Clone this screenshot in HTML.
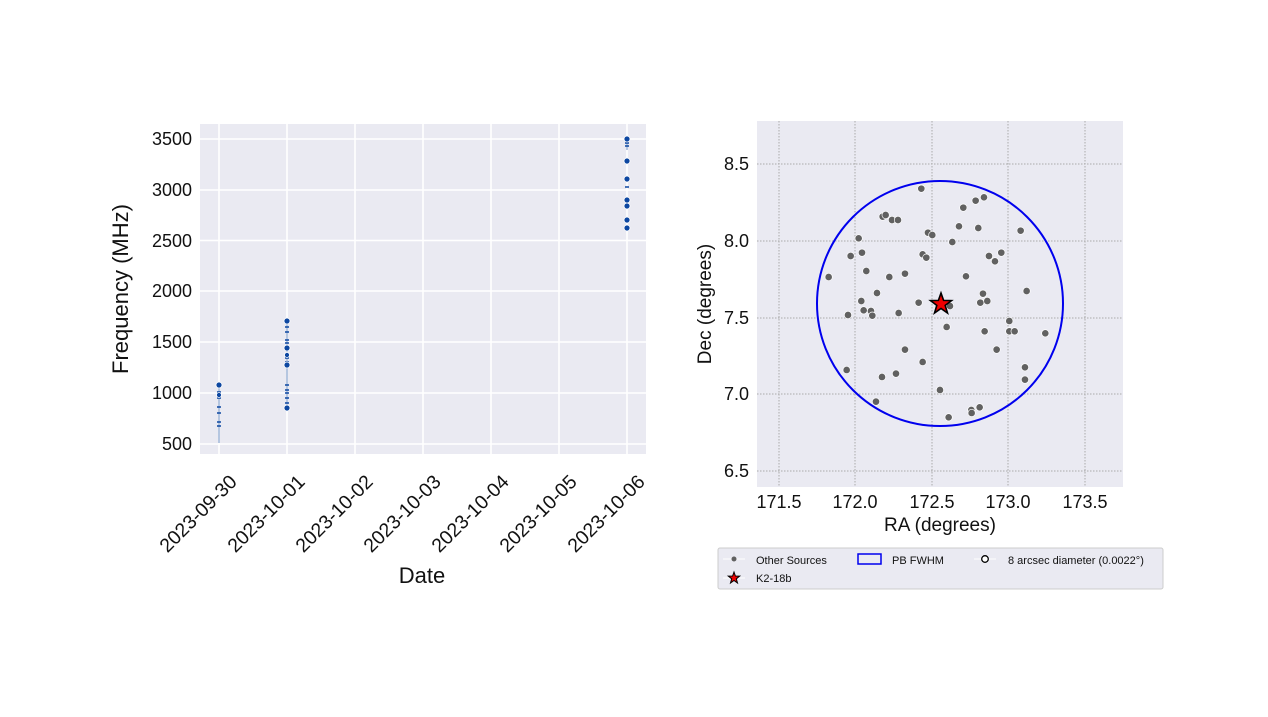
<!DOCTYPE html>
<html><head><style>body{margin:0;background:#fff}svg{display:block;font-family:"Liberation Sans",Arial,sans-serif}</style></head>
<body>
<svg width="1268" height="717" viewBox="0 0 1268 717">
<!-- LEFT PLOT -->
<rect x="200" y="124" width="446" height="330" fill="#eaeaf2"/>
<g stroke="#fff" stroke-width="1.6">
<line x1="200" x2="646" y1="139" y2="139"/><line x1="200" x2="646" y1="190" y2="190"/><line x1="200" x2="646" y1="240.5" y2="240.5"/><line x1="200" x2="646" y1="291" y2="291"/><line x1="200" x2="646" y1="342" y2="342"/><line x1="200" x2="646" y1="393" y2="393"/><line x1="200" x2="646" y1="444" y2="444"/>
<line y1="124" y2="454" x1="219" x2="219"/><line y1="124" y2="454" x1="287" x2="287"/><line y1="124" y2="454" x1="355" x2="355"/><line y1="124" y2="454" x1="423" x2="423"/><line y1="124" y2="454" x1="491" x2="491"/><line y1="124" y2="454" x1="559" x2="559"/><line y1="124" y2="454" x1="627" x2="627"/>
</g>
<g stroke="#9fb6d8" stroke-width="1.5"><line x1="219" x2="219" y1="383" y2="443"/><line x1="287" x2="287" y1="321" y2="410"/><line x1="627" x2="627" y1="139" y2="150"/></g>
<g stroke="#0d47a1" stroke-width="1.5">
<line x1="217" x2="221" y1="392" y2="392"/><line x1="217" x2="221" y1="395" y2="395"/><line x1="217" x2="221" y1="398" y2="398"/><line x1="217" x2="221" y1="407" y2="407"/><line x1="217" x2="221" y1="413" y2="413"/><line x1="217" x2="221" y1="422" y2="422"/><line x1="217" x2="221" y1="426" y2="426"/>
<line x1="285" x2="289" y1="327" y2="327"/><line x1="285" x2="289" y1="332" y2="332"/><line x1="285" x2="289" y1="340" y2="340"/><line x1="285" x2="289" y1="343" y2="343"/><line x1="285" x2="289" y1="357" y2="357"/><line x1="285" x2="289" y1="358" y2="358"/><line x1="285" x2="289" y1="362" y2="362"/><line x1="285" x2="289" y1="385" y2="385"/><line x1="285" x2="289" y1="390" y2="390"/><line x1="285" x2="289" y1="393" y2="393"/><line x1="285" x2="289" y1="398" y2="398"/><line x1="285" x2="289" y1="403" y2="403"/>
<line x1="625" x2="629" y1="143" y2="143"/><line x1="625" x2="629" y1="146" y2="146"/><line x1="625" x2="629" y1="187" y2="187"/>
</g>
<g fill="#0d47a1" stroke="#fff" stroke-width="0.8">
<circle cx="219" cy="385" r="3"/><circle cx="219" cy="395" r="2.5"/>
<circle cx="287" cy="321" r="3"/><circle cx="287" cy="348" r="3"/><circle cx="287" cy="355" r="2.5"/><circle cx="287" cy="365" r="3"/><circle cx="287" cy="408" r="3"/>
<circle cx="627" cy="139" r="3"/><circle cx="627" cy="161" r="3"/><circle cx="627" cy="179" r="3"/><circle cx="627" cy="200" r="3"/><circle cx="627" cy="206" r="3"/><circle cx="627" cy="220" r="3"/><circle cx="627" cy="228" r="3"/>
</g>
<g font-size="18" text-anchor="end" fill="#111">
<text x="192" y="145">3500</text><text x="192" y="196">3000</text><text x="192" y="247">2500</text><text x="192" y="297">2000</text><text x="192" y="348">1500</text><text x="192" y="399">1000</text><text x="192" y="450">500</text>
</g>
<g font-size="19.5" text-anchor="end" fill="#111">
<text transform="translate(238,483) rotate(-45)">2023-09-30</text>
<text transform="translate(306,483) rotate(-45)">2023-10-01</text>
<text transform="translate(374,483) rotate(-45)">2023-10-02</text>
<text transform="translate(442,483) rotate(-45)">2023-10-03</text>
<text transform="translate(510,483) rotate(-45)">2023-10-04</text>
<text transform="translate(578,483) rotate(-45)">2023-10-05</text>
<text transform="translate(646,483) rotate(-45)">2023-10-06</text>
</g>
<text x="422" y="583" font-size="22" text-anchor="middle" fill="#111">Date</text>
<text transform="translate(128,289) rotate(-90)" font-size="22" text-anchor="middle" fill="#111">Frequency (MHz)</text>

<!-- RIGHT PLOT -->
<rect x="757" y="121" width="366" height="366" fill="#eaeaf2"/>
<g stroke="#aaa" stroke-width="1" stroke-dasharray="1.5,1.5">
<line x1="779" x2="779" y1="121" y2="487"/><line x1="855" x2="855" y1="121" y2="487"/><line x1="932" x2="932" y1="121" y2="487"/><line x1="1008" x2="1008" y1="121" y2="487"/><line x1="1085" x2="1085" y1="121" y2="487"/>
<line y1="164" y2="164" x1="757" x2="1123"/><line y1="241" y2="241" x1="757" x2="1123"/><line y1="318" y2="318" x1="757" x2="1123"/><line y1="394" y2="394" x1="757" x2="1123"/><line y1="471" y2="471" x1="757" x2="1123"/>
</g>
<ellipse cx="940" cy="303.5" rx="123" ry="122.5" fill="none" stroke="#0000ee" stroke-width="2"/>
<g transform="translate(700,110) scale(0.3333)" fill="#616161" stroke="#fff" stroke-width="2">
<circle cx="386" cy="501" r="11"/><circle cx="440" cy="780" r="11"/><circle cx="444" cy="615" r="11"/><circle cx="452" cy="438" r="11"/><circle cx="476" cy="385" r="11"/><circle cx="486" cy="428" r="11"/><circle cx="484" cy="573" r="11"/><circle cx="491" cy="601" r="11"/><circle cx="499" cy="483" r="11"/><circle cx="513" cy="603" r="11"/><circle cx="517" cy="617" r="11"/><circle cx="528" cy="875" r="11"/><circle cx="531" cy="549" r="11"/><circle cx="546" cy="801" r="11"/><circle cx="548" cy="320" r="11"/><circle cx="557" cy="315" r="11"/><circle cx="568" cy="501" r="11"/><circle cx="576" cy="330" r="11"/><circle cx="594" cy="330" r="11"/><circle cx="588" cy="791" r="11"/><circle cx="596" cy="609" r="11"/><circle cx="615" cy="491" r="11"/><circle cx="615" cy="719" r="11"/><circle cx="656" cy="578" r="11"/><circle cx="664" cy="236" r="11"/><circle cx="668" cy="756" r="11"/><circle cx="668" cy="433" r="11"/><circle cx="679" cy="443" r="11"/><circle cx="684" cy="368" r="11"/><circle cx="697" cy="375" r="11"/><circle cx="720" cy="840" r="11"/><circle cx="740" cy="651" r="11"/><circle cx="746" cy="922" r="11"/><circle cx="750" cy="588" r="11"/><circle cx="757" cy="396" r="11"/><circle cx="777" cy="349" r="11"/><circle cx="790" cy="293" r="11"/><circle cx="798" cy="499" r="11"/><circle cx="814" cy="900" r="11"/><circle cx="815" cy="909" r="11"/><circle cx="827" cy="272" r="11"/><circle cx="835" cy="354" r="11"/><circle cx="839" cy="892" r="11"/><circle cx="841" cy="578" r="11"/><circle cx="849" cy="551" r="11"/><circle cx="852" cy="262" r="11"/><circle cx="854" cy="664" r="11"/><circle cx="862" cy="573" r="11"/><circle cx="867" cy="438" r="11"/><circle cx="885" cy="454" r="11"/><circle cx="890" cy="719" r="11"/><circle cx="904" cy="428" r="11"/><circle cx="928" cy="633" r="11"/><circle cx="928" cy="664" r="11"/><circle cx="944" cy="664" r="11"/><circle cx="962" cy="362" r="11"/><circle cx="975" cy="772" r="11"/><circle cx="975" cy="809" r="11"/><circle cx="980" cy="543" r="11"/><circle cx="1036" cy="670" r="11"/>
</g>
<polygon transform="translate(941,304)" points="0,-11 2.6,-3.6 10.5,-3.4 4.2,1.4 6.5,9 0,4.5 -6.5,9 -4.2,1.4 -10.5,-3.4 -2.6,-3.6" fill="#e00" stroke="#000" stroke-width="1.6"/>
<g font-size="18" fill="#111">
<g text-anchor="end"><text x="749" y="170">8.5</text><text x="749" y="247">8.0</text><text x="749" y="324">7.5</text><text x="749" y="400">7.0</text><text x="749" y="477">6.5</text></g>
<g text-anchor="middle"><text x="779" y="508">171.5</text><text x="855" y="508">172.0</text><text x="932" y="508">172.5</text><text x="1008" y="508">173.0</text><text x="1085" y="508">173.5</text></g>
</g>
<text x="940" y="531" font-size="19" text-anchor="middle" fill="#111">RA (degrees)</text>
<text transform="translate(711,304) rotate(-90)" font-size="19" text-anchor="middle" fill="#111">Dec (degrees)</text>

<!-- Legend -->
<rect x="718" y="548" width="445" height="41" rx="2" fill="#eaeaf2" stroke="#ccc"/>
<line x1="723" x2="745" y1="559" y2="559" stroke="#fff"/>
<circle cx="734" cy="559" r="2.5" fill="#616161"/>
<text x="756" y="564" font-size="11" fill="#111">Other Sources</text>
<rect x="858" y="554" width="23" height="10" fill="none" stroke="#0000ee" stroke-width="1.5"/>
<text x="892" y="564" font-size="11" fill="#111">PB FWHM</text>
<line x1="974" x2="996" y1="559" y2="559" stroke="#fff"/>
<circle cx="985" cy="559" r="3.3" fill="#fff" stroke="#000" stroke-width="1.3"/>
<text x="1008" y="564" font-size="11" fill="#111">8 arcsec diameter (0.0022°)</text>
<line x1="723" x2="745" y1="578" y2="578" stroke="#fff"/>
<polygon transform="translate(734,578)" points="0,-6 1.4,-2 5.7,-1.9 2.3,0.8 3.5,5 0,2.5 -3.5,5 -2.3,0.8 -5.7,-1.9 -1.4,-2" fill="#e00" stroke="#000" stroke-width="1"/>
<text x="756" y="582" font-size="11" fill="#111">K2-18b</text>
</svg>
</body></html>
